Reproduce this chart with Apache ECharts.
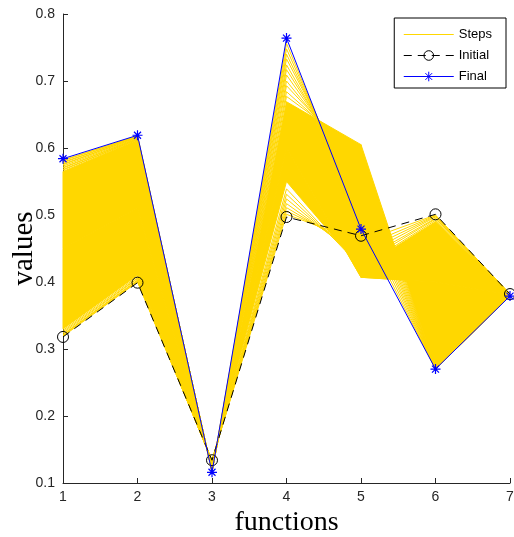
<!DOCTYPE html>
<html>
<head>
<meta charset="utf-8">
<script src="https://cdn.jsdelivr.net/npm/echarts@6/dist/echarts.min.js"></script>
<style>
html,body{margin:0;padding:0;background:#fff;}
#chart{width:514px;height:537px;}
</style>
</head>
<body>
<div id="chart"></div>
<script>
const categories = [1, 2, 3, 4, 5, 6, 7];
const yTicks = [0.1, 0.2, 0.3, 0.4, 0.5, 0.6, 0.7, 0.8];
const initialValues = [0.318, 0.399, 0.134, 0.497, 0.469, 0.501, 0.382];
const finalValues = [0.584, 0.619, 0.116, 0.764, 0.479, 0.270, 0.379];

// early optimisation steps (sparse, near the initial guess)
const earlySteps = [
  [0.319, 0.400, 0.134, 0.501, 0.460, 0.500, 0.382],
  [0.320, 0.401, 0.134, 0.506, 0.452, 0.499, 0.382],
  [0.321, 0.402, 0.133, 0.511, 0.445, 0.498, 0.382],
  [0.322, 0.403, 0.133, 0.517, 0.438, 0.497, 0.382],
  [0.324, 0.405, 0.133, 0.524, 0.432, 0.495, 0.382],
  [0.326, 0.406, 0.132, 0.531, 0.427, 0.494, 0.382],
  [0.328, 0.408, 0.132, 0.539, 0.422, 0.492, 0.382]
];
// dense run of steps: the band between consecutive rows is filled
const denseSteps = [
  [0.330, 0.410, 0.132, 0.550, 0.420, 0.490, 0.382],
  [0.450, 0.510, 0.125, 0.600, 0.407, 0.400, 0.381],
  [0.565, 0.612, 0.118, 0.669, 0.605, 0.270, 0.380]
];
// late steps (sparse, converging to the final values)
const lateSteps = [
  [0.567, 0.613, 0.118, 0.677, 0.595, 0.270, 0.380],
  [0.568, 0.613, 0.118, 0.684, 0.585, 0.270, 0.380],
  [0.570, 0.614, 0.118, 0.693, 0.574, 0.270, 0.380],
  [0.571, 0.614, 0.117, 0.700, 0.563, 0.270, 0.380],
  [0.573, 0.615, 0.117, 0.709, 0.552, 0.270, 0.380],
  [0.575, 0.616, 0.117, 0.717, 0.542, 0.270, 0.380],
  [0.576, 0.616, 0.117, 0.724, 0.532, 0.270, 0.379],
  [0.578, 0.617, 0.117, 0.733, 0.521, 0.270, 0.379],
  [0.579, 0.617, 0.117, 0.740, 0.511, 0.270, 0.379],
  [0.581, 0.618, 0.116, 0.748, 0.500, 0.270, 0.379],
  [0.582, 0.618, 0.116, 0.756, 0.489, 0.270, 0.379]
];

const GOLD = '#FFD700';
const AXIS = '#262626';
const NONE = 'rgba(0,0,0,0)';
const pairs = (vals) => categories.map((c, i) => [c, vals[i]]);

const stepLine = (vals) => ({
  name: 'Steps', type: 'line', data: pairs(vals), symbol: 'none',
  silent: true, z: 2, animation: false,
  lineStyle: { color: GOLD, width: 1 },
  itemStyle: { color: NONE, borderColor: NONE, borderWidth: 0 }
});

const bandData = [];
for (let p = 0; p < denseSteps.length - 1; p++) {
  for (let i = 0; i < categories.length - 1; i++) {
    bandData.push([categories[i], denseSteps[p][i], p, i]);
  }
}

const series = [];
earlySteps.forEach(v => series.push(stepLine(v)));
series.push({
  name: 'Steps', type: 'custom', silent: true, z: 2, animation: false,
  data: bandData,
  encode: { x: 0, y: 1 },
  renderItem: function (params, api) {
    const p = api.value(2), i = api.value(3);
    const A = denseSteps[p], B = denseSteps[p + 1];
    const pts = [
      api.coord([categories[i], A[i]]),
      api.coord([categories[i + 1], A[i + 1]]),
      api.coord([categories[i + 1], B[i + 1]]),
      api.coord([categories[i], B[i]])
    ];
    return { type: 'polygon', shape: { points: pts },
      style: { fill: GOLD, stroke: GOLD, lineWidth: 1 } };
  }
});
lateSteps.forEach(v => series.push(stepLine(v)));
series.push({
  name: 'Initial', type: 'line', data: pairs(initialValues), z: 3, animation: false,
  symbol: 'circle', symbolSize: 11,
  lineStyle: { color: '#000', width: 1, type: [8, 6] },
  itemStyle: { color: NONE, borderColor: '#000', borderWidth: 1 }
});
series.push({
  name: 'Final', type: 'line', data: pairs(finalValues), z: 4, animation: false,
  symbol: 'path://M0,-10L0,10M-10,0L10,0M-7,-7L7,7M-7,7L7,-7', symbolSize: 10,
  lineStyle: { color: '#0000ff', width: 1 },
  itemStyle: { color: '#0000ff', borderColor: '#0000ff', borderWidth: 1.2 }
});

const chart = echarts.init(document.getElementById('chart'), null, { renderer: 'canvas' });
chart.setOption({
  animation: false,
  backgroundColor: '#fff',
  grid: { left: 63, right: 4, top: 14, bottom: 54, containLabel: false, outerBoundsMode: 'none' },
  legend: {
    data: ['Steps', 'Initial', 'Final'],
    orient: 'vertical', right: 8, top: 18,
    itemWidth: 50, itemHeight: 12, itemGap: 8,
    padding: [10, 14, 5, 9],
    backgroundColor: '#fff', borderColor: '#000', borderWidth: 1, borderRadius: 0,
    selectedMode: false,
    itemStyle: { borderWidth: 1 },
    lineStyle: { width: 1 },
    textStyle: { fontFamily: 'Liberation Sans', fontSize: 13, color: '#000' }
  },
  xAxis: {
    type: 'value', min: categories[0], max: categories[categories.length - 1], interval: 1,
    name: 'functions', nameLocation: 'middle', nameGap: 24,
    nameTextStyle: { fontFamily: 'Liberation Serif', fontSize: 28, color: '#000' },
    axisLine: { lineStyle: { color: AXIS, width: 1 } },
    axisTick: { inside: true, length: 5, lineStyle: { color: AXIS } },
    axisLabel: { color: AXIS, fontFamily: 'Liberation Sans', fontSize: 14, margin: 7 },
    splitLine: { show: false }
  },
  yAxis: {
    type: 'value', min: yTicks[0], max: yTicks[yTicks.length - 1], interval: 0.1,
    name: 'values', nameLocation: 'middle', nameGap: 24, nameMoveOverlap: false,
    nameTextStyle: { fontFamily: 'Liberation Serif', fontSize: 29, color: '#000' },
    axisLine: { show: true, lineStyle: { color: AXIS, width: 1 } },
    axisTick: { show: true, inside: true, length: 5, lineStyle: { color: AXIS } },
    axisLabel: { color: AXIS, fontFamily: 'Liberation Sans', fontSize: 14, margin: 8,
      formatter: v => v.toFixed(1) },
    splitLine: { show: false }
  },
  series: series
});
</script>
</body>
</html>
